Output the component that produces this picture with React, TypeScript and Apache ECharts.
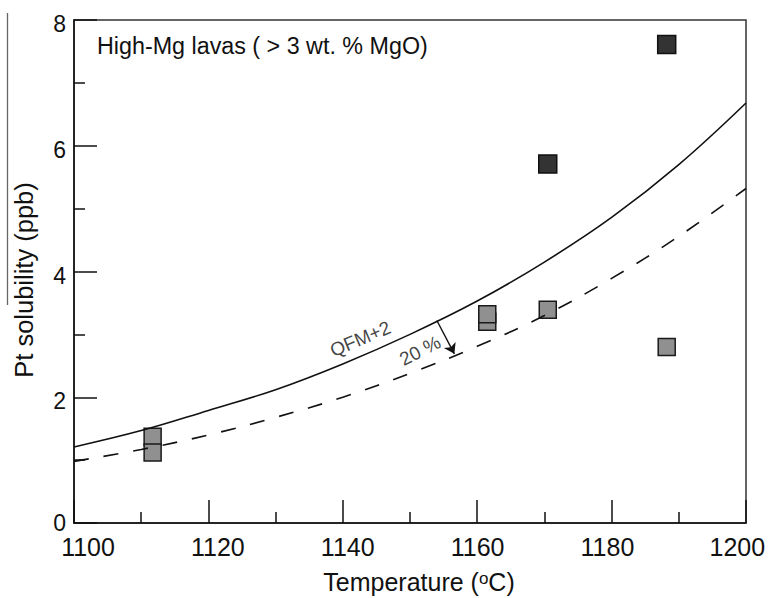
import React, { useEffect, useRef } from "react";
import * as echarts from "echarts";

// Temperature grid for the two model curves (°C)
const temperatures = [1100, 1110, 1120, 1130, 1140, 1150, 1160, 1170, 1180, 1190, 1200];
// Pt solubility at QFM+2 (ppb), solid curve
const qfmCurve = [1.21, 1.47, 1.79, 2.12, 2.53, 3.0, 3.53, 4.15, 4.86, 5.7, 6.68];
// 20 % lower curve (ppb), dashed
const lowerCurve = [0.98, 1.17, 1.4, 1.68, 2.0, 2.38, 2.81, 3.3, 3.89, 4.56, 5.32];

// measured samples [T, Pt ppb]
const greySamples: number[][] = [
  [1111.7, 1.37],
  [1111.7, 1.12],
  [1161.5, 3.2],
  [1161.5, 3.32],
  [1170.5, 3.39],
  [1188.2, 2.8],
];
const darkSamples: number[][] = [
  [1170.5, 5.71],
  [1188.2, 7.61],
];

// axis ranges and tick labels
const xRange = { min: 1100, max: 1200, interval: 20 };
const yRange = { min: 0, max: 8, interval: 2 };
const xTickLabels = [1100, 1120, 1140, 1160, 1180, 1200];
// the printed temperature labels sit on a slightly narrower scale than the ticks
const xLabelRange = { min: 1097.84, max: 1201.34 };

// annotations (data coordinates)
const curveLabel = { text: "QFM+2", at: [1142.6, 2.93], rotate: 23 };
const shiftLabel = { text: "20 %", at: [1151.5, 2.74], rotate: 27 };
const arrowFrom = [1154.0, 3.22];
const arrowTo = [1156.6, 2.69];

const FONT = "'Liberation Sans', Arial, Helvetica, sans-serif";
const INK = "#111";

export default function App() {
  const ref = useRef<HTMLDivElement>(null);

  useEffect(() => {
    if (!ref.current) return;
    const chart = echarts.init(ref.current, undefined, { renderer: "svg" });

    const line = (ys: number[]) => temperatures.map((t, i) => [t, ys[i]]);

    const axisCommon = {
      type: "value" as const,
      axisLine: { show: true, onZero: false, lineStyle: { color: INK, width: 1.5 } },
      axisTick: { show: true, inside: true, length: 23, lineStyle: { color: INK, width: 1.5 } },
      minorTick: { show: true, splitNumber: 2, length: 11, lineStyle: { color: INK, width: 1.5 } },
      splitLine: { show: false },
      minorSplitLine: { show: false },
    };

    chart.setOption({
      animation: false,
      backgroundColor: "#fff",
      grid: {
        left: 74,
        right: 23,
        top: 20,
        bottom: 75,
        show: true,
        borderColor: "#333",
        borderWidth: 1.5,
        backgroundColor: "transparent",
        containLabel: false,
        outerBoundsMode: "none",
      },
      xAxis: [
        {
          ...axisCommon,
          position: "bottom",
          min: xRange.min,
          max: xRange.max,
          interval: xRange.interval,
          axisLabel: { show: false },
        },
        {
          type: "value",
          position: "bottom",
          min: xLabelRange.min,
          max: xLabelRange.max,
          axisLine: { show: false },
          axisTick: { show: false },
          splitLine: { show: false },
          axisLabel: {
            show: true,
            customValues: xTickLabels,
            fontSize: 25,
            color: INK,
            fontFamily: FONT,
            margin: 11,
            formatter: (v: number) => String(v),
          },
        },
      ],
      yAxis: {
        ...axisCommon,
        min: yRange.min,
        max: yRange.max,
        interval: yRange.interval,
        axisLabel: {
          fontSize: 23,
          color: INK,
          fontFamily: FONT,
          margin: 8,
          formatter: (v: number) => (v === 0 ? "0" : `{d|${v}}`),
          rich: {
            d: { fontSize: 23, fontFamily: FONT, color: INK, padding: [8, 0, 0, 0] },
          },
        },
      },
      graphic: [
        {
          type: "line",
          shape: { x1: 7.5, y1: 13, x2: 7.5, y2: 305 },
          style: { stroke: "#666", lineWidth: 1.3 },
          silent: true,
        },
        {
          type: "text",
          x: 23.5,
          y: 280,
          rotation: Math.PI / 2,
          style: {
            text: "Pt solubility (ppb)",
            fontSize: 25.5,
            fontFamily: FONT,
            fill: INK,
            align: "center",
            verticalAlign: "middle",
          },
          silent: true,
        },
        {
          type: "text",
          x: 419,
          y: 582,
          style: {
            text: "Temperature ({sup|o}C)",
            fontSize: 25,
            fontFamily: FONT,
            fill: INK,
            align: "center",
            verticalAlign: "middle",
            rich: {
              sup: { fontSize: 17, fontFamily: FONT, fill: INK, verticalAlign: "top" },
            },
          },
          silent: true,
        },
        {
          type: "text",
          x: 97,
          y: 46,
          style: {
            text: "High-Mg lavas ( > 3 wt. % MgO)",
            fontSize: 23.3,
            fontFamily: FONT,
            fill: INK,
            align: "left",
            verticalAlign: "middle",
          },
          silent: true,
        },
      ],
      series: [
        {
          type: "line",
          name: "QFM+2",
          data: line(qfmCurve),
          smooth: 0.4,
          showSymbol: false,
          lineStyle: { color: INK, width: 1.6 },
          silent: true,
        },
        {
          type: "line",
          name: "-20 %",
          data: line(lowerCurve),
          smooth: 0.4,
          showSymbol: false,
          lineStyle: { color: INK, width: 1.6, type: [15, 15] },
          silent: true,
          markLine: {
            silent: true,
            symbol: ["none", "arrow"],
            symbolSize: 10,
            label: { show: false },
            lineStyle: { color: INK, width: 1.4, type: "solid" },
            data: [[{ coord: arrowFrom }, { coord: arrowTo }]],
          },
        },
        {
          type: "scatter",
          name: "grey samples",
          data: greySamples,
          symbol: "rect",
          symbolSize: 17,
          itemStyle: { color: "#909090", borderColor: "#1a1a1a", borderWidth: 1.5, opacity: 1 },
          silent: true,
        },
        {
          type: "scatter",
          name: "dark samples",
          data: darkSamples,
          symbol: "rect",
          symbolSize: 18,
          itemStyle: { color: "#333", borderColor: "#111", borderWidth: 1.5, opacity: 1 },
          silent: true,
        },
        {
          type: "scatter",
          name: "labels",
          data: [curveLabel.at],
          symbolSize: 0,
          silent: true,
          label: {
            show: true,
            position: "inside",
            formatter: curveLabel.text,
            rotate: curveLabel.rotate,
            fontSize: 19,
            fontFamily: FONT,
            color: INK,
          },
        },
        {
          type: "scatter",
          name: "labels2",
          data: [shiftLabel.at],
          symbolSize: 0,
          silent: true,
          label: {
            show: true,
            position: "inside",
            formatter: shiftLabel.text,
            rotate: shiftLabel.rotate,
            fontSize: 19,
            fontFamily: FONT,
            color: INK,
          },
        },
      ],
    });

    return () => chart.dispose();
  }, []);

  return (
    <div
      ref={ref}
      style={{ position: "absolute", left: 0, top: 0, width: 769, height: 598 }}
    />
  );
}
